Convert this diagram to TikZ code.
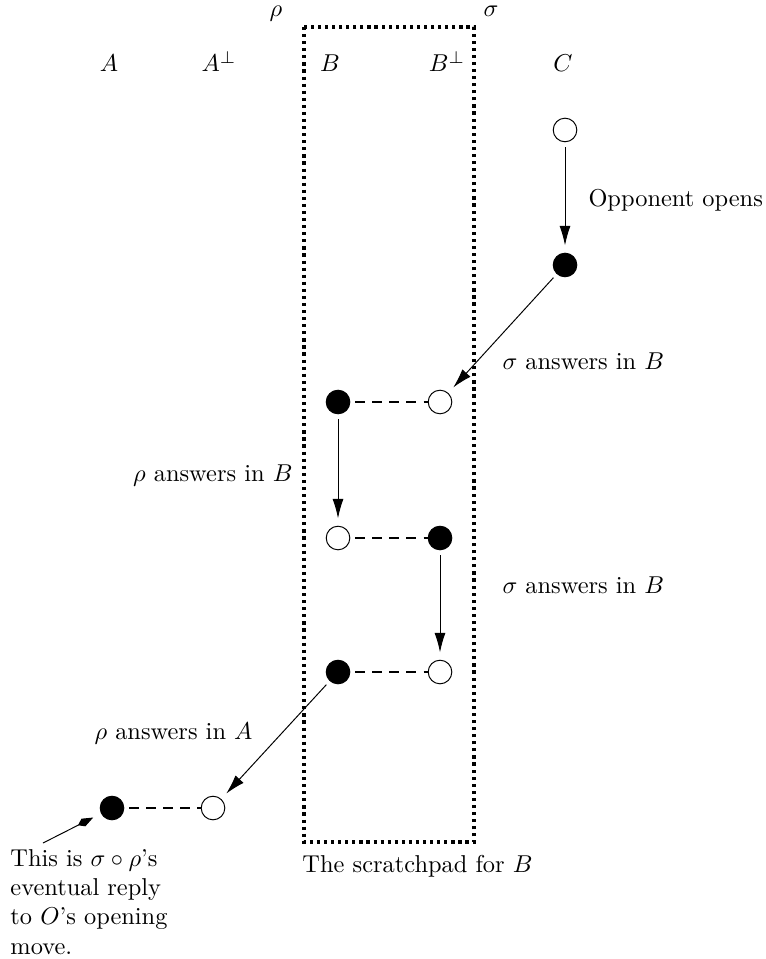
\documentclass[tikz,border=0pt]{standalone}
\usepackage{amsmath}
\usepackage{tikz}
\usetikzlibrary{arrows.meta,positioning}

\begin{document}
\begin{tikzpicture}[x=0.0144cm, y=-0.0144cm,
  opmove/.style={circle, draw, thin, fill=white, minimum size=0.34cm, inner sep=0pt},
  plmove/.style={circle, draw, fill=black, minimum size=0.34cm, inner sep=0pt},
  reply/.style={-{Latex[length=8pt,width=4.5pt]}, shorten <=2pt, shorten >=3pt},
  copycat/.style={line width=0.9pt, dash pattern=on 4pt off 3pt, shorten <=2pt},
  gloss/.style={inner sep=0pt}]
\useasboundingbox (0,0) rectangle (765,959);
% strategies and the scratchpad round B
\node[anchor=base] (rho) at (276,17) {$\rho$};
\node[anchor=base] (sigma) at (491,17) {$\sigma$};
\draw[line width=1.3pt, dash pattern=on 1.3pt off 1.6pt] (304,27) rectangle (474,842);
\node[gloss, anchor=base west] (pad) at (302,872) {The scratchpad for $B$};
% games
\node[anchor=base] (hA) at (109,72) {$A$};
\node[anchor=base] (hAp) at (219,72) {$A^{\perp}$};
\node[anchor=base] (hB) at (330,72) {$B$};
\node[anchor=base] (hBp) at (447,72) {$B^{\perp}$};
\node[anchor=base] (hC) at (563,72) {$C$};
% moves
\node[opmove] (c0) at (565,130) {};
\node[plmove] (c1) at (565,265) {};
\node[plmove] (b1) at (338,402) {};
\node[opmove] (bp1) at (440,402) {};
\node[opmove] (b2) at (338,538) {};
\node[plmove] (bp2) at (440,538) {};
\node[plmove] (b3) at (338,672) {};
\node[opmove] (bp3) at (440,672) {};
\node[plmove] (a) at (112,808) {};
\node[opmove] (ap) at (213,808) {};
\draw[reply] (c0) -- (c1);
\draw[reply] (c1) -- (bp1);
\draw[reply] (b1) -- (b2);
\draw[reply] (bp2) -- (bp3);
\draw[reply] (b3) -- (ap);
\foreach \u/\v in {b1/bp1, b2/bp2, b3/bp3, a/ap} \draw[copycat] (\u) -- (\v);
% who moves
\node[gloss, anchor=base west] (opens) at (588,207) {Opponent opens};
\node[gloss, anchor=base west] (sig1) at (502,370) {$\sigma$ answers in $B$};
\node[gloss, anchor=base east] (rho1) at (293,481) {$\rho$ answers in $B$};
\node[gloss, anchor=base west] (sig2) at (502,593) {$\sigma$ answers in $B$};
\node[gloss, anchor=base east] (rho2) at (253,739) {$\rho$ answers in $A$};
\node[gloss, anchor=north west, align=left] (note) at (10,849)
  {This is $\sigma\circ\rho$'s\\eventual reply\\to $O$'s opening\\move.};
\coordinate (tail) at (43,843);
\draw[-{Kite[length=7pt,width=3.5pt,inset=2.5pt]}, shorten >=3.6pt] (tail) -- (a);
\end{tikzpicture}
\end{document}
